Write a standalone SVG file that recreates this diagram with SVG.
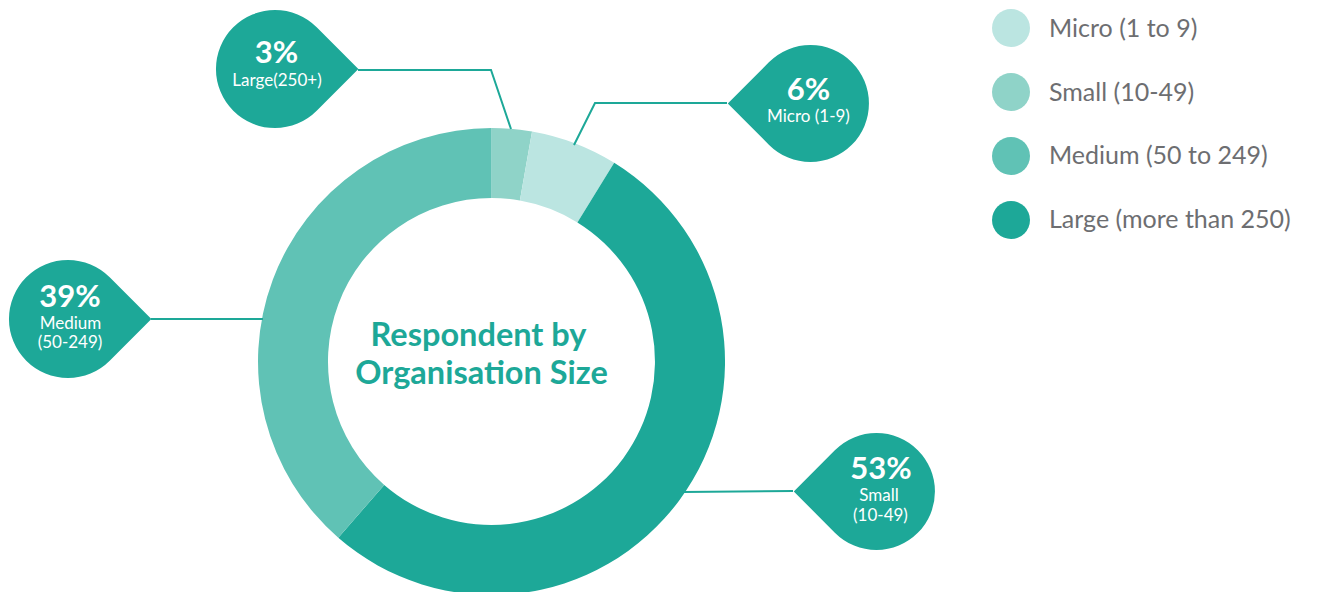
<svg xmlns="http://www.w3.org/2000/svg" width="1317" height="592" viewBox="0 0 1317 592">
<style>
.bub{fill:#1DA898}
.pct{font-family:Lato,"Liberation Sans",sans-serif;font-weight:700;font-size:31px;fill:#fff;text-anchor:middle}
.lbl{font-family:Lato,"Liberation Sans",sans-serif;font-size:17px;fill:#fff;text-anchor:middle}
.leg{font-family:Lato,"Liberation Sans",sans-serif;font-size:25px;fill:#6D6E71}
.ctr{font-family:Lato,"Liberation Sans",sans-serif;font-weight:700;font-size:32.5px;fill:#1DA898;text-anchor:middle}
.con{fill:none;stroke:#1DA898;stroke-width:2}
</style>
<rect width="1317" height="592" fill="#fff"/>
<g id="donut">
<path d="M491.5,128 A233.5,233.5 0 0 1 532.05,131.55 L519.89,200.48 A163.5,163.5 0 0 0 491.5,198 Z" fill="#8FD3C8"/>
<path d="M532.05,131.55 A233.5,233.5 0 0 1 614.2,162.84 L577.41,222.39 A163.5,163.5 0 0 0 519.89,200.48 Z" fill="#BBE5E1"/>
<path d="M614.2,162.84 A233.5,233.5 0 1 1 338.31,537.72 L384.23,484.9 A163.5,163.5 0 1 0 577.41,222.39 Z" fill="#1DA898"/>
<path d="M338.31,537.72 A233.5,233.5 0 0 1 491.5,128 L491.5,198 A163.5,163.5 0 0 0 384.23,484.9 Z" fill="#60C2B5"/>
</g>
<g id="center-title">
<text class="ctr" x="478.5" y="346">Respondent by</text>
<text class="ctr" x="481.5" y="384">Organisation Size</text>
</g>
<g id="connectors">
<path class="con" d="M358,70 H491 L511,129"/>
<path class="con" d="M727,103 H595 L574,145"/>
<path class="con" d="M151,319 H263"/>
<path class="con" d="M793,491 L683,492"/>
</g>
<g id="callout-large">
<path class="bub" d="M358.4,69 L316.7,110.7 A59,59 0 1 1 316.7,27.3 Z"/>
<text class="pct" x="276.5" y="63">3%</text>
<text class="lbl" x="277" y="86">Large(250+)</text>
</g>
<g id="callout-micro">
<path class="bub" d="M727.8,103.5 L769.1,62.1 A58.5,58.5 0 1 1 769.1,144.9 Z"/>
<text class="pct" x="808.5" y="100">6%</text>
<text class="lbl" x="808.5" y="122">Micro (1-9)</text>
</g>
<g id="callout-medium">
<path class="bub" d="M151.4,319 L109.7,360.7 A59,59 0 1 1 109.7,277.3 Z"/>
<text class="pct" x="70" y="307">39%</text>
<text class="lbl" x="70.5" y="329">Medium</text>
<text class="lbl" x="70" y="348">(50-249)</text>
</g>
<g id="callout-small">
<path class="bub" d="M793.8,491.5 L835.1,450.1 A58.5,58.5 0 1 1 835.1,532.9 Z"/>
<text class="pct" x="881" y="479">53%</text>
<text class="lbl" x="879" y="501">Small</text>
<text class="lbl" x="880.5" y="521">(10-49)</text>
</g>
<g id="legend">
<circle cx="1011" cy="28" r="19" fill="#BBE5E1"/>
<text class="leg" x="1049" y="37">Micro (1 to 9)</text>
<circle cx="1011" cy="92" r="19" fill="#8FD3C8"/>
<text class="leg" x="1049" y="101">Small (10-49)</text>
<circle cx="1011" cy="156" r="19" fill="#60C2B5"/>
<text class="leg" x="1049" y="164">Medium (50 to 249)</text>
<circle cx="1011" cy="220" r="19" fill="#1DA898"/>
<text class="leg" x="1049" y="228">Large (more than 250)</text>
</g>
</svg>
